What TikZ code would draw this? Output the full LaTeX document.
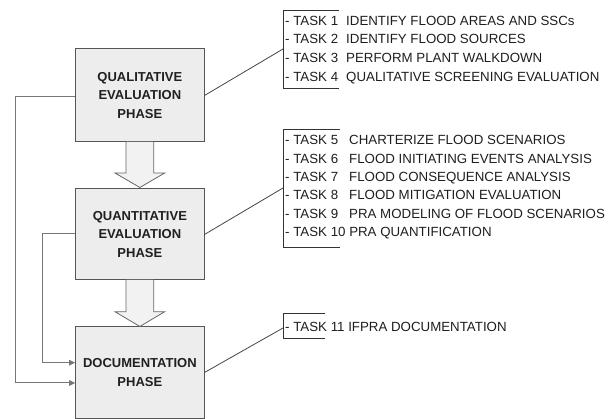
\documentclass[tikz,border=0pt]{standalone}
\usepackage{fontspec}
\setmainfont{Liberation Sans}
\usetikzlibrary{arrows.meta,calc}
\definecolor{boxfill}{HTML}{EDEDED}
\definecolor{boxline}{HTML}{555555}
\definecolor{boxtext}{HTML}{202020}
\definecolor{fatfill}{HTML}{F2F2F2}
\definecolor{fatline}{HTML}{666666}
\definecolor{fbline}{HTML}{777777}
\definecolor{leadline}{HTML}{444444}
\definecolor{brkline}{HTML}{333333}
\definecolor{tasktext}{HTML}{1E1E1E}
\begin{document}
\begin{tikzpicture}[x=1pt,y=-1pt,
  phase/.style={draw=boxline, fill=boxfill, line width=1pt, minimum width=128.3pt,
    minimum height=91pt, inner sep=0pt, align=center,
    font=\fontsize{13}{18.5}\selectfont\bfseries, text=boxtext},
  fat/.style={draw=fatline, fill=fatfill, line width=0.8pt, line join=miter},
  fb/.style={draw=fbline, line width=1pt, -{Triangle[length=6pt,width=5.5pt]}},
  lead/.style={draw=leadline, line width=0.8pt},
  brk/.style={draw=brkline, line width=1pt},
  task/.style={anchor=base west, inner sep=0pt, font=\fontsize{13.3}{15}\selectfont, text=tasktext}]
\useasboundingbox (0,0) rectangle (613,419);

% phase boxes
\node[phase, minimum height=93pt] (q1) at (139.85,95.5) {QUALITATIVE\\EVALUATION\\PHASE};
\node[phase] (q2) at (139.85,234.5) {QUANTITATIVE\\EVALUATION\\PHASE};
\node[phase] (q3) at (139.85,372.5) {DOCUMENTATION\\PHASE};

% fat arrows
\draw[fat] (126,142) -- (126,173) -- (115,173) -- (139.85,187.5) -- (164.7,173) -- (153.7,173) -- (153.7,142);
\draw[fat] (126,280) -- (126,311.7) -- (115,311.7) -- (139.85,326.5) -- (164.7,311.7) -- (153.7,311.7) -- (153.7,280);

% feedback lines
\draw[fb] ($(q1.west)+(0,1.5)$) -- ++(-59.7,0) |- ($(q3.west)+(0,10.5)$);
\draw[fb] ($(q2.west)+(0,-0.5)$) -- ++(-33,0) |- ($(q3.west)+(0,-9.8)$);

% brackets
\coordinate (b1) at (283,49);
\coordinate (b2) at (283,188);
\coordinate (b3) at (283,328);
\draw[brk] (339,11) -- (283,11) -- (283,89) -- (339,89);
\draw[brk] (340,130) -- (283,130) -- (283,248) -- (340,248);
\draw[brk] (325,314) -- (283,314) -- (283,339) -- (325,339);

% leads
\draw[lead] (q1.east) -- (b1);
\draw[lead] (q2.east) -- (b2);
\draw[lead] (q3.east) -- (b3);

% task lists
\foreach \i/\d [count=\k from 0] in {1/IDENTIFY FLOOD AREAS AND SSCs,2/IDENTIFY FLOOD SOURCES,3/PERFORM PLANT WALKDOWN,4/QUALITATIVE SCREENING EVALUATION}{
  \node[task] (t\i) at (285,25.2+18.7*\k) {- TASK \i};
  \node[task] (d\i) at (346,25.2+18.7*\k) {\d};
}
\foreach \i/\d [count=\k from 0] in {5/CHARTERIZE FLOOD SCENARIOS,6/FLOOD INITIATING EVENTS ANALYSIS,7/FLOOD CONSEQUENCE ANALYSIS,8/FLOOD MITIGATION EVALUATION,9/PRA MODELING OF FLOOD SCENARIOS}{
  \node[task] (t\i) at (285,144.7+18.4*\k) {- TASK \i};
  \node[task] (d\i) at (349,144.7+18.4*\k) {\d};
}
\node[task] (t10) at (285,144.7+18.4*5) {- TASK 10 PRA QUANTIFICATION};
\node[task] (t11) at (285,331.7) {- TASK 11 IFPRA DOCUMENTATION};
\end{tikzpicture}
\end{document}
